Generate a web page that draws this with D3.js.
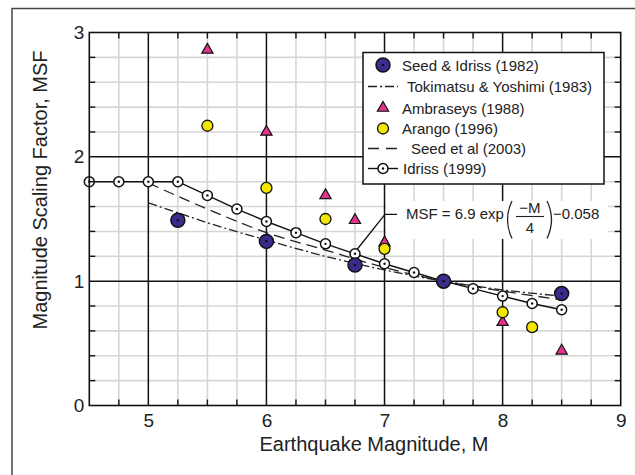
<!DOCTYPE html>
<html>
<head>
<meta charset="utf-8">
<script src="https://cdn.jsdelivr.net/npm/d3@7"></script>
<style>
  body { margin: 0; background: #fff; }
  svg { font-family: "Liberation Sans", Arial, sans-serif; }
</style>
</head>
<body>
<svg id="chart" width="635" height="475"></svg>
<script>
// Idriss (1999) curve, read at every quarter magnitude
const idrissM = [4.5, 4.75, 5, 5.25, 5.5, 5.75, 6, 6.25, 6.5, 6.75, 7, 7.25, 7.5, 7.75, 8, 8.25, 8.5];
const idrissMsf = [1.8, 1.8, 1.8, 1.8, 1.69, 1.58, 1.48, 1.39, 1.30, 1.22, 1.14, 1.07, 1.00, 0.94, 0.88, 0.82, 0.77];

const seedIdrissM = [5.25, 6, 6.75, 7.5, 8.5];
const seedIdrissMsf = [1.49, 1.32, 1.13, 1.0, 0.9];

const ambraseysM = [5.5, 6, 6.5, 6.75, 7, 8, 8.5];
const ambraseysMsf = [2.86, 2.2, 1.69, 1.49, 1.31, 0.67, 0.44];

const arangoM = [5.5, 6, 6.5, 7, 8, 8.25];
const arangoMsf = [2.25, 1.75, 1.5, 1.26, 0.75, 0.63];

const tokimatsuM = [5, 5.25, 5.5, 6, 6.5, 7, 7.5, 8, 8.5];
const tokimatsuMsf = [1.63, 1.55, 1.47, 1.33, 1.2, 1.09, 1.0, 0.93, 0.88];

const seed2003M = [5, 5.5, 6, 6.5, 7, 7.5, 8, 8.5];
const seed2003Msf = [1.79, 1.58, 1.39, 1.25, 1.11, 1.0, 0.92, 0.85];

const xTickLabels = [5, 6, 7, 8, 9];
const yTickLabels = [0, 1, 2, 3];

const legendLabels = ['Seed & Idriss (1982)', 'Tokimatsu & Yoshimi (1983)', 'Ambraseys (1988)',
  'Arango (1996)', 'Seed et al (2003)', 'Idriss (1999)'];

const purple = '#3d2a8c';
const pink = '#e3338c';
const yellow = '#f3e600';

let svg = d3.select('#chart');

// outer frame of the figure (right and bottom run off the picture)
svg.append('rect')
  .attr('x', 12).attr('y', 8.5)
  .attr('width', 640).attr('height', 480)
  .style('fill', 'none').style('stroke', '#444').style('stroke-width', 1.5);

let x = d3.scaleLinear().domain([4.5, 9]).range([89.3, 620.7]);
let y = d3.scaleLinear().domain([0, 3]).range([405.5, 32.5]);

let isMajor = (v) => Math.abs(v - Math.round(v)) < 1e-6;
let minorX = d3.range(4.75, 9, 0.25).filter((v) => !isMajor(v));
let minorY = d3.range(0.2, 3, 0.2).filter((v) => !isMajor(v));
let majorX = [5, 6, 7, 8];
let majorY = [1, 2];

let plotH = y(0) - y(3);
let plotW = x(9) - x(4.5);

// grid: light minor lines, then black major lines
let grid = svg.append('g').attr('class', 'grid');
grid.selectAll('.gx').data(minorX).enter().append('line')
  .attr('x1', (d) => x(d)).attr('x2', (d) => x(d))
  .attr('y1', y(0)).attr('y2', y(3))
  .style('stroke', '#d6d6d6').style('stroke-width', 1.6);
grid.selectAll('.gy').data(minorY).enter().append('line')
  .attr('y1', (d) => y(d)).attr('y2', (d) => y(d))
  .attr('x1', x(4.5)).attr('x2', x(9))
  .style('stroke', '#d6d6d6').style('stroke-width', 1.6);
grid.selectAll('.mx').data(majorX).enter().append('line')
  .attr('x1', (d) => x(d)).attr('x2', (d) => x(d))
  .attr('y1', y(0)).attr('y2', y(3))
  .style('stroke', '#111').style('stroke-width', 1.5);
grid.selectAll('.my').data(majorY).enter().append('line')
  .attr('y1', (d) => y(d)).attr('y2', (d) => y(d))
  .attr('x1', x(4.5)).attr('x2', x(9))
  .style('stroke', '#111').style('stroke-width', 1.5);

// white patch behind the equation
svg.append('rect')
  .attr('x', 386).attr('y', 201)
  .attr('width', 222).attr('height', 38)
  .style('fill', '#fff');

let line = d3.line().x((d) => x(d[0])).y((d) => y(d[1]));
let smooth = d3.line().curve(d3.curveMonotoneX).x((d) => x(d[0])).y((d) => y(d[1]));

svg.append('path')
  .attr('d', smooth(d3.zip(tokimatsuM, tokimatsuMsf)))
  .style('fill', 'none').style('stroke', '#222').style('stroke-width', 1.3)
  .style('stroke-dasharray', '9,3,2,3');

svg.append('path')
  .attr('d', smooth(d3.zip(seed2003M, seed2003Msf)))
  .style('fill', 'none').style('stroke', '#222').style('stroke-width', 1.3)
  .style('stroke-dasharray', '11,6');

svg.append('path')
  .attr('d', line(d3.zip(idrissM, idrissMsf)))
  .style('fill', 'none').style('stroke', '#111').style('stroke-width', 1.4);

let tri = d3.symbol().type(d3.symbolTriangle).size(55);

/**
 * marker helpers, also used by the legend
 */
function ambraseysMark(g, cx, cy) {
  g.append('path').attr('d', tri).attr('transform', `translate(${cx},${cy})`)
    .style('fill', pink).style('stroke', '#111').style('stroke-width', 1.2);
}
function arangoMark(g, cx, cy) {
  g.append('circle').attr('cx', cx).attr('cy', cy).attr('r', 5.5)
    .style('fill', yellow).style('stroke', '#111').style('stroke-width', 1.3);
}
function idrissMark(g, cx, cy) {
  g.append('circle').attr('cx', cx).attr('cy', cy).attr('r', 5)
    .style('fill', '#fff').style('stroke', '#111').style('stroke-width', 1.5);
  g.append('circle').attr('cx', cx).attr('cy', cy).attr('r', 1.2).style('fill', '#111');
}
function seedIdrissMark(g, cx, cy) {
  g.append('circle').attr('cx', cx).attr('cy', cy).attr('r', 7)
    .style('fill', purple).style('stroke', '#111').style('stroke-width', 1.5);
  g.append('circle').attr('cx', cx).attr('cy', cy).attr('r', 1.3).style('fill', '#111');
}

let marks = svg.append('g');
d3.zip(ambraseysM, ambraseysMsf).forEach((d) => ambraseysMark(marks, x(d[0]), y(d[1])));
d3.zip(arangoM, arangoMsf).forEach((d) => arangoMark(marks, x(d[0]), y(d[1])));
d3.zip(idrissM, idrissMsf).forEach((d) => idrissMark(marks, x(d[0]), y(d[1])));
d3.zip(seedIdrissM, seedIdrissMsf).forEach((d) => seedIdrissMark(marks, x(d[0]), y(d[1])));

// inward minor ticks on all four sides
let tickLen = 6;
let ticks = svg.append('g').style('stroke', '#111').style('stroke-width', 1.4);
minorX.forEach((v) => {
  ticks.append('line').attr('x1', x(v)).attr('x2', x(v)).attr('y1', y(0)).attr('y2', y(0) - tickLen);
  ticks.append('line').attr('x1', x(v)).attr('x2', x(v)).attr('y1', y(3)).attr('y2', y(3) + tickLen);
});
minorY.forEach((v) => {
  ticks.append('line').attr('y1', y(v)).attr('y2', y(v)).attr('x1', x(4.5)).attr('x2', x(4.5) + tickLen);
  ticks.append('line').attr('y1', y(v)).attr('y2', y(v)).attr('x1', x(9)).attr('x2', x(9) - tickLen);
});

svg.append('rect')
  .attr('x', x(4.5)).attr('y', y(3))
  .attr('width', plotW).attr('height', plotH)
  .style('fill', 'none').style('stroke', '#111').style('stroke-width', 1.6);

// tick labels
svg.append('g')
  .attr('transform', `translate(0,${y(0)})`)
  .call(d3.axisBottom(x).tickValues(xTickLabels).tickFormat(d3.format('d')).tickSize(0).tickPadding(8))
  .call((g) => g.select('.domain').remove())
  .selectAll('text')
  .style('font-size', '19px').style('fill', '#222')
  .style('font-family', '"Liberation Sans", Arial, sans-serif');

svg.append('g')
  .attr('transform', `translate(${x(4.5)},0)`)
  .call(d3.axisLeft(y).tickValues(yTickLabels).tickFormat(d3.format('d')).tickSize(0).tickPadding(5))
  .call((g) => g.select('.domain').remove())
  .selectAll('text')
  .style('font-size', '19px').style('fill', '#222')
  .style('font-family', '"Liberation Sans", Arial, sans-serif');

// axis titles
svg.append('text')
  .attr('x', 374).attr('y', 451)
  .attr('text-anchor', 'middle')
  .style('font-size', '20px').style('fill', '#222')
  .text('Earthquake Magnitude, M');

svg.append('text')
  .attr('transform', 'translate(47,190) rotate(-90)')
  .attr('text-anchor', 'middle')
  .style('font-size', '20px').style('fill', '#222')
  .text('Magnitude Scaling Factor, MSF');

// legend
let legend = svg.append('g').attr('class', 'legend');
legend.append('rect')
  .attr('x', 363).attr('y', 52.5).attr('width', 241).attr('height', 131.5)
  .style('fill', '#fff').style('stroke', '#111').style('stroke-width', 1.5);

let rowY = [65, 86.5, 108, 128.5, 148.5, 168.5];
let textX = [402, 407, 402, 402, 411, 403];
let symX = 383;

seedIdrissMark(legend, symX, rowY[0]);
legend.append('line').attr('x1', 368).attr('x2', 398).attr('y1', rowY[1]).attr('y2', rowY[1])
  .style('stroke', '#222').style('stroke-width', 1.3).style('stroke-dasharray', '9,3,2,3');
ambraseysMark(legend, symX, rowY[2]);
arangoMark(legend, symX, rowY[3]);
legend.append('line').attr('x1', 368).attr('x2', 398).attr('y1', rowY[4]).attr('y2', rowY[4])
  .style('stroke', '#222').style('stroke-width', 1.3).style('stroke-dasharray', '11,7');
legend.append('line').attr('x1', 368).attr('x2', 398).attr('y1', rowY[5]).attr('y2', rowY[5])
  .style('stroke', '#111').style('stroke-width', 1.4);
idrissMark(legend, symX, rowY[5]);

legend.selectAll('.label').data(legendLabels).enter().append('text')
  .attr('x', (d, i) => textX[i])
  .attr('y', (d, i) => rowY[i] + 5.5)
  .style('font-size', '15px').style('fill', '#222')
  .text((d) => d);

// equation with leader to the Idriss curve
let eq = svg.append('g').style('fill', '#222');
svg.append('path')
  .attr('d', 'M397,214.3H385L357,249.5')
  .style('fill', 'none').style('stroke', '#111').style('stroke-width', 1.3);
eq.append('text').attr('x', 406).attr('y', 219).style('font-size', '15px').text('MSF = 6.9 exp');
eq.append('text').attr('x', 530).attr('y', 212.5).attr('text-anchor', 'middle')
  .style('font-size', '15px').text('\u2212M');
eq.append('line').attr('x1', 516).attr('x2', 544).attr('y1', 216.5).attr('y2', 216.5)
  .style('stroke', '#222').style('stroke-width', 1.1);
eq.append('text').attr('x', 530).attr('y', 233).attr('text-anchor', 'middle')
  .style('font-size', '15px').text('4');
eq.append('path').attr('d', 'M512,201Q503,219.5 512,238.5')
  .style('fill', 'none').style('stroke', '#222').style('stroke-width', 1.3);
eq.append('path').attr('d', 'M547,201Q556,219.5 547,238.5')
  .style('fill', 'none').style('stroke', '#222').style('stroke-width', 1.3);
eq.append('text').attr('x', 553).attr('y', 219).style('font-size', '15px').text('\u22120.058');
</script>
</body>
</html>
